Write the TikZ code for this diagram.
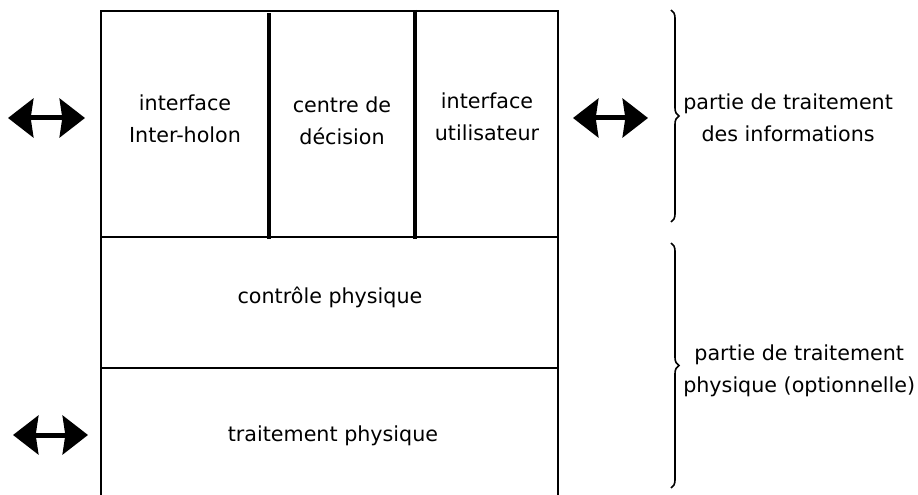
\documentclass[tikz,border=0pt]{standalone}
\usepackage{fontspec}
\setmainfont{DejaVu Sans}
\usetikzlibrary{arrows.meta}
\usetikzlibrary{decorations.pathreplacing}

\tikzset{
  frame/.style={line width=1.1pt},
  divider/.style={line width=2.3pt},
  txt/.style={align=center, inner sep=0pt, font=\fontsize{15.5}{24}\selectfont},
  fatarrow/.style={line width=3.75pt,
    {Stealth[length=19pt,width=29pt,inset=2pt]}-{Stealth[length=19pt,width=29pt,inset=2pt]}},
  bracket/.style={decorate, decoration={brace, amplitude=6pt}, line width=1.2pt},
}

\begin{document}
\begin{tikzpicture}[x=0.75pt, y=-0.75pt]
\useasboundingbox (0,0) rectangle (918,495);
\clip (0,0) rectangle (918,495);

% holon frame
\coordinate (tl) at (101,11);
\coordinate (br) at (558,520);
\draw[frame] (tl) rectangle (br);
\draw[frame] (101,237) -- (558,237);
\draw[frame] (101,368) -- (558,368);
\draw[divider] (269,13) -- (269,239);
\draw[divider] (415,10) -- (415,239);

% cell texts
\node[txt] (interholon)  at (185,119) {interface\\Inter-holon};
\node[txt] (decision)    at (342,121) {centre de\\décision};
\node[txt] (utilisateur) at (487,117) {interface\\utilisateur};
\node[txt] (controle)    at (330,297) {contrôle physique};
\node[txt] (traitement)  at (333,436) {traitement physique};

% exchanges
\coordinate (a1) at (8,118);   \coordinate (a2) at (85,118);
\coordinate (b1) at (573,118); \coordinate (b2) at (648,118);
\coordinate (c1) at (13,435);  \coordinate (c2) at (88,435);
\draw[fatarrow] (a1) -- (a2);
\draw[fatarrow] (b1) -- (b2);
\draw[fatarrow] (c1) -- (c2);

% parts
\coordinate (u1) at (671,10);  \coordinate (u2) at (671,222);
\coordinate (d1) at (671,243); \coordinate (d2) at (671,488);
\draw[bracket] (u1) -- (u2);
\draw[bracket] (d1) -- (d2);
\node[txt, anchor=west] (infopart) at (683,118) {partie de traitement\\des informations};
\node[txt, anchor=west] (physpart) at (683,371) {partie de traitement\\physique (optionnelle)};
\end{tikzpicture}
\end{document}
